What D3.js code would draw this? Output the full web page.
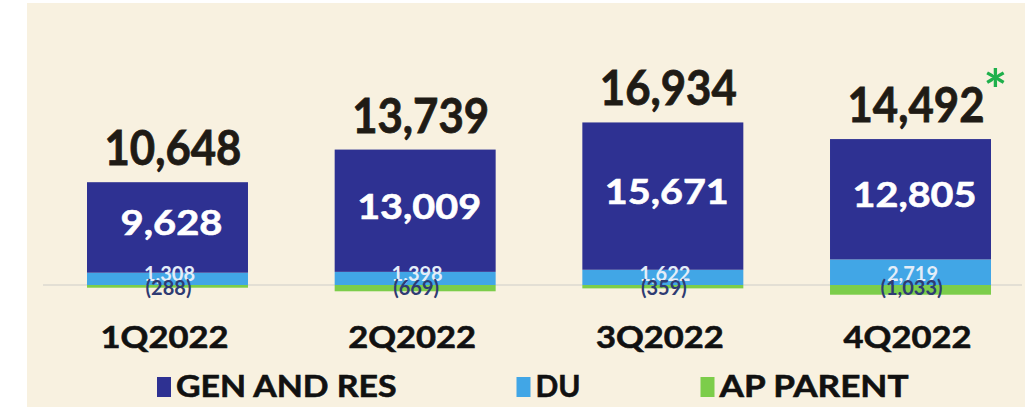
<!DOCTYPE html>
<html>
<head>
<meta charset="utf-8">
<script src="https://cdn.jsdelivr.net/npm/d3@7"></script>
<style>
  html, body { margin: 0; padding: 0; background: #ffffff; }
  svg { display: block; }
  text { font-family: "Lato", "Open Sans", "Liberation Sans", sans-serif; font-weight: 700; }
</style>
</head>
<body>
<svg id="chart" width="1025" height="409"></svg>
<script>
// ---- data ----
const categories = ["1Q2022", "2Q2022", "3Q2022", "4Q2022"];
const genAndRes  = [9628, 13009, 15671, 12805];
const du         = [1308, 1398, 1622, 2719];
const apParent   = [-288, -669, -359, -1033];
const totals     = [10648, 13739, 16934, 14492];
const seriesNames = ["GEN AND RES", "DU", "AP PARENT"];
const footnoteMark = "*";

// ---- styles ----
const colors = { "GEN AND RES": "#2e3192", "DU": "#41a6e6", "AP PARENT": "#7ccd4a" };
const bg = "#f8f1e0";

const W = 1025, H = 409;
const svg = d3.select("#chart");

// background panel
svg.append("rect").attr("x", 27).attr("y", 3).attr("width", W - 27).attr("height", 404).attr("fill", bg);

const x = d3.scaleBand().domain(categories).range([87, 991]).paddingInner(0.35).paddingOuter(0);
const y = d3.scaleLinear().domain([0, 20000]).range([285, 97]);

// stacked data
const rows = categories.map((c, i) => ({ cat: c, "GEN AND RES": genAndRes[i], "DU": du[i], "AP PARENT": apParent[i] }));
const stack = d3.stack().keys(["DU", "GEN AND RES", "AP PARENT"]).offset(d3.stackOffsetDiverging);
const layers = stack(rows);

// baseline
svg.append("line").attr("x1", 43).attr("x2", 1022).attr("y1", y(0)).attr("y2", y(0))
  .attr("stroke", "#dcd8d0").attr("stroke-width", 1.5);

svg.append("g").selectAll("g").data(layers).join("g")
  .attr("fill", d => colors[d.key])
  .selectAll("rect").data(d => d).join("rect")
  .attr("x", d => x(d.data.cat))
  .attr("width", x.bandwidth())
  .attr("y", d => y(d[1]))
  .attr("height", d => Math.max(0, y(d[0]) - y(d[1])));

const fmt = d3.format(",");
const fmtSigned = v => v < 0 ? "(" + fmt(-v) + ")" : fmt(v);
function estW(str, wide, narrow) {
  let w = 0;
  for (const ch of str) w += (",() ".includes(ch) ? narrow : wide);
  return w;
}

// total labels
const totalG = svg.append("g");
totalG.selectAll("text").data(categories).join("text")
  .attr("x", c => x(c) + x.bandwidth() / 2 + 5.5)
  .attr("y", (c, i) => y(genAndRes[i] + du[i]) - 17)
  .attr("text-anchor", "middle")
  .attr("font-size", 47)
  .attr("fill", "#1f1b15")
  .attr("stroke", "#1f1b15").attr("stroke-width", 0.8)
  .attr("textLength", (c, i) => estW(fmt(totals[i]), 24.5, 14.5))
  .attr("lengthAdjust", "spacingAndGlyphs")
  .text((c, i) => fmt(totals[i]));

// asterisk on last total
{
  const i = categories.length - 1, c = categories[i];
  const tw = estW(fmt(totals[i]), 24.5, 14.5);
  const bx = x(c) + x.bandwidth() / 2 + 5.5 + tw / 2;
  const by = y(genAndRes[i] + du[i]) - 17;
  svg.append("text").attr("x", bx - 1).attr("y", by - 12)
    .attr("font-size", 56).attr("fill", "#1fb04b").text(footnoteMark);
}

// GEN AND RES inner labels
svg.append("g").selectAll("text").data(categories).join("text")
  .attr("x", c => x(c) + x.bandwidth() / 2 + 4)
  .attr("y", (c, i) => (y(du[i]) + y(du[i] + genAndRes[i])) / 2 + 8)
  .attr("text-anchor", "middle")
  .attr("font-size", 35)
  .attr("fill", "#ffffff")
  .attr("stroke", "#ffffff").attr("stroke-width", 0.6)
  .attr("textLength", (c, i) => estW(fmt(genAndRes[i]), 22, 14))
  .attr("lengthAdjust", "spacingAndGlyphs")
  .text((c, i) => fmt(genAndRes[i]));

// DU labels
svg.append("g").selectAll("text").data(categories).join("text")
  .attr("x", c => x(c) + x.bandwidth() / 2 + 2)
  .attr("y", y(0) - 4)
  .attr("text-anchor", "middle")
  .attr("font-size", 20)
  .attr("fill", "#e4edf8")
  .text((c, i) => fmt(du[i]));

// AP PARENT labels
svg.append("g").selectAll("text").data(categories).join("text")
  .attr("x", c => x(c) + x.bandwidth() / 2 + 1)
  .attr("y", y(0) + 9.5)
  .attr("text-anchor", "middle")
  .attr("font-size", 20)
  .attr("fill", "#2f3b72")
  .text((c, i) => fmtSigned(apParent[i]));

// category axis labels
const xAxis = d3.axisBottom(x).tickSize(0).tickPadding(0);
const axG = svg.append("g").attr("transform", "translate(0,348)").call(xAxis);
axG.select(".domain").remove();
axG.selectAll("text")
  .attr("dy", 0).attr("y", 0)
  .attr("dx", -3)
  .attr("font-size", 30)
  .attr("fill", "#111111")
  .attr("stroke", "#111111").attr("stroke-width", 0.6)
  .attr("font-family", null)
  .attr("textLength", d => estW(d, 21.3, 12))
  .attr("lengthAdjust", "spacingAndGlyphs");

// legend
const legend = svg.append("g");
let lx = 157;
seriesNames.forEach(name => {
  legend.append("rect").attr("x", lx).attr("y", 377).attr("width", 14).attr("height", 20).attr("fill", colors[name]);
  const tw = estW(name, 22.5, 9);
  legend.append("text").attr("x", lx + 19).attr("y", 397)
    .attr("font-size", 31).attr("fill", "#111111")
    .attr("stroke", "#111111").attr("stroke-width", 0.6)
    .attr("textLength", tw).attr("lengthAdjust", "spacingAndGlyphs")
    .text(name);
  lx += 19 + tw + 120;
});
</script>
</body>
</html>
